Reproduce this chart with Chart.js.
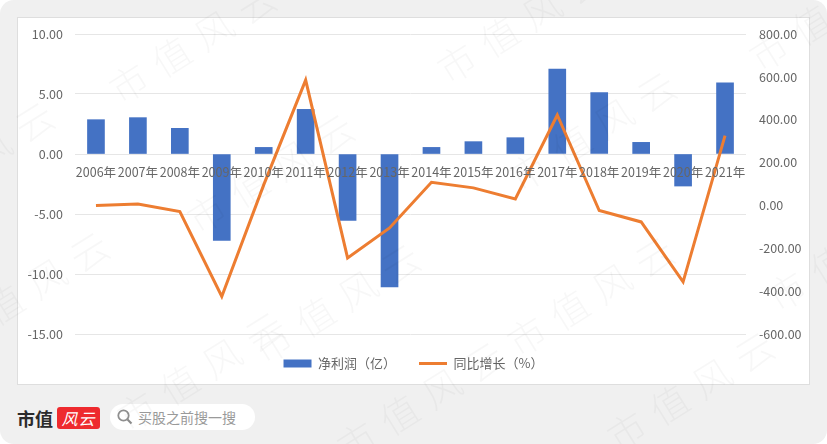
<!DOCTYPE html>
<html>
<head>
<meta charset="utf-8">
<script src="https://cdn.jsdelivr.net/npm/chart.js@4"></script>
<style>
    html, body { margin: 0; padding: 0; background: #fff; }
    body { width: 827px; height: 444px; overflow: hidden; position: relative; font-family: "Noto Sans CJK SC", sans-serif; }
    #fundo { position: absolute; left: 0; top: 0; width: 827px; height: 444px; background: #f0f0f0; border-radius: 14px; }
    #cartao { position: absolute; left: 17px; top: 17px; width: 793px; height: 368px; background: #fff; border: 1px solid #dedede; box-sizing: border-box; }
    #caixa { position: absolute; left: 17px; top: 17px; width: 793px; height: 371px; }
    #marca { position: absolute; left: 17px; top: 406px; font-size: 18px; font-weight: 700; color: #2b2b2b; line-height: 24px; letter-spacing: 0; }
    #selo { position: absolute; left: 57px; top: 407px; width: 43px; height: 22px; border-radius: 3px; background: #ee2a2e; color: #fff; font-size: 16px; line-height: 22px; font-style: italic; text-align: center; letter-spacing: 1px; }
    #busca { position: absolute; left: 110px; top: 404px; width: 145px; height: 26px; border-radius: 13px; background: #fff; }
    #busca svg { position: absolute; left: 6px; top: 4px; }
    #busca span { position: absolute; left: 28px; top: 0; font-size: 14px; line-height: 26px; color: #9a9a9a; white-space: nowrap; }
    #agua { position: absolute; left: 0; top: 0; width: 827px; height: 444px; overflow: hidden; pointer-events: none; }
    #agua div { position: absolute; font-size: 38px; letter-spacing: 12px; color: rgba(0,0,0,0.032); white-space: nowrap; transform: rotate(-32deg); transform-origin: left center; font-weight: 300; line-height: 40px; }
</style>
</head>
<body>
<div id="fundo"></div>
<div id="cartao"></div>
<div id="caixa"><canvas id="grafico"></canvas></div>
<div id="marca">市值</div>
<div id="selo">风云</div>
<div id="busca">
    <svg width="18" height="18" viewBox="0 0 18 18"><circle cx="7.5" cy="7.5" r="5.2" fill="none" stroke="#8f8f8f" stroke-width="1.8"/><line x1="11.5" y1="11.5" x2="15.5" y2="15.5" stroke="#8f8f8f" stroke-width="2.2"/></svg>
    <span>买股之前搜一搜</span>
</div>
<div id="agua"></div>

<script>
var anos = ["2006年", "2007年", "2008年", "2009年", "2010年", "2011年", "2012年", "2013年", "2014年", "2015年", "2016年", "2017年", "2018年", "2019年", "2020年", "2021年"];
var lucroLiquido = [2.86, 3.03, 2.14, -7.20, 0.55, 3.72, -5.53, -11.08, 0.55, 1.03, 1.36, 7.08, 5.11, 0.97, -2.67, 5.94];
var crescimento = [0, 7, -29, -425, 96, 585, -245, -105, 108, 82, 30, 422, -24, -77, -357, 326];

var corTexto = "#666666";
var corGrade = "#e6e6e6";
var fonteGrafico = "'Noto Sans CJK SC', sans-serif";

// marca d'agua repetida por cima de tudo
var posicoesAgua = [[112, 92], [-110, 210], [190, 222], [440, 72], [752, 60], [512, 180], [256, 352], [-55, 340], [510, 345], [120, 420], [340, 450], [610, 440], [770, 300]];
var agua = document.getElementById("agua");
for (var cont = 0; cont < posicoesAgua.length; cont++) {
    var item = document.createElement("div");
    item.textContent = "市值风云";
    item.style.left = posicoesAgua[cont][0] + "px";
    item.style.top = (posicoesAgua[cont][1] - 20) + "px";
    agua.appendChild(item);
}

// largura fixa e sem folga automatica nos eixos verticais
function fixarEixo(largura) {
    return function (escala) {
        escala.width = largura;
        escala.paddingTop = 0;
        escala.paddingBottom = 0;
    };
}

var ctx = document.getElementById("grafico");
new Chart(ctx, {
    data: {
        labels: anos,
        datasets: [{
            type: "bar",
            label: "净利润（亿）",
            data: lucroLiquido,
            backgroundColor: "#4472C4",
            barThickness: 17,
            yAxisID: "y",
            order: 1
        }, {
            type: "line",
            label: "同比增长（%）",
            data: crescimento,
            borderColor: "#ED7D31",
            backgroundColor: "#ED7D31",
            borderWidth: 3,
            pointRadius: 0,
            tension: 0,
            yAxisID: "y2",
            order: 0
        }]
    },
    options: {
        responsive: true,
        maintainAspectRatio: false,
        animation: false,
        layout: { autoPadding: false, padding: { top: 17, bottom: 8, left: 0, right: 0 } },
        plugins: {
            tooltip: { enabled: false },
            legend: {
                position: "bottom",
                labels: {
                    color: corTexto,
                    font: { family: fonteGrafico, size: 13 },
                    usePointStyle: true,
                    pointStyleWidth: 28,
                    boxHeight: 8,
                    padding: 23,
                    // barra primeiro, linha depois
                    sort: function (a, b) { return a.datasetIndex - b.datasetIndex; },
                    generateLabels: function (chart) {
                        var itens = Chart.defaults.plugins.legend.labels.generateLabels(chart);
                        itens.forEach(function (legenda) {
                            legenda.pointStyle = legenda.datasetIndex == 0 ? "rect" : "line";
                        });
                        return itens;
                    }
                }
            }
        },
        scales: {
            x: {
                position: { y: 0 },
                // os rotulos ficam dentro da area, sem reservar espaco em cima
                afterFit: function (escala) { escala.paddingTop = 0; escala.paddingBottom = 0; },
                grid: { display: false },
                border: { display: false },
                ticks: {
                    z: 1,
                    color: corTexto,
                    font: { family: fonteGrafico, size: 12.5 },
                    autoSkip: false,
                    maxRotation: 0,
                    minRotation: 0,
                    padding: 3
                }
            },
            y: {
                position: "left",
                min: -15,
                max: 10,
                afterFit: fixarEixo(58),
                grid: { color: corGrade, lineWidth: 1, drawTicks: false },
                border: { display: false },
                ticks: {
                    stepSize: 5,
                    padding: 12,
                    color: corTexto,
                    font: { family: fonteGrafico, size: 12.5 },
                    callback: function (valor) { return valor.toFixed(2); }
                }
            },
            y2: {
                position: "right",
                min: -600,
                max: 800,
                afterFit: fixarEixo(64),
                grid: { display: false, drawTicks: false },
                border: { display: false },
                ticks: {
                    stepSize: 200,
                    padding: 13,
                    color: corTexto,
                    font: { family: fonteGrafico, size: 12.5 },
                    callback: function (valor) { return valor.toFixed(2); }
                }
            }
        }
    }
});
</script>
</body>
</html>
